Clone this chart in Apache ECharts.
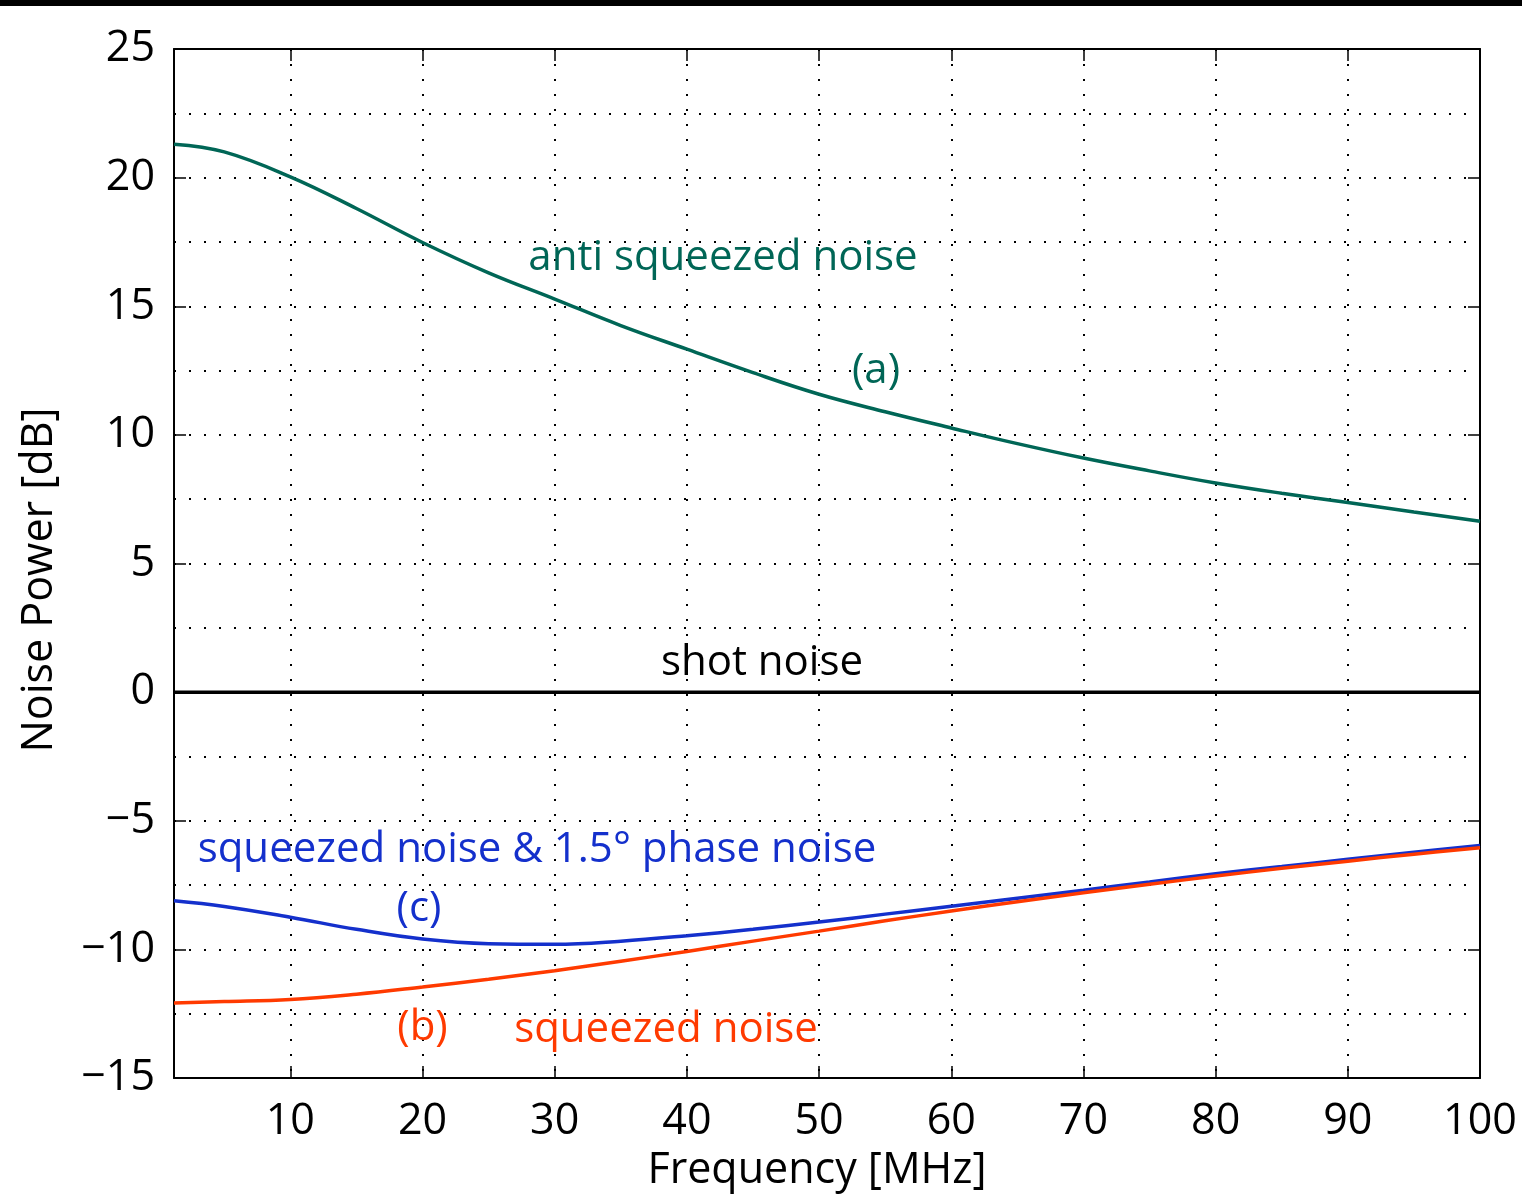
<!DOCTYPE html>
<html>
<head>
<meta charset="utf-8">
<script src="https://cdn.jsdelivr.net/npm/echarts@6/dist/echarts.min.js"></script>
<style>
  html, body { margin: 0; padding: 0; background: #fff; }
  #chart { width: 1522px; height: 1196px; }
</style>
</head>
<body>
<div id="chart"></div>
<script>
// ---- data ----
const freq = [1.2, 5, 10, 15, 20, 25, 30, 35, 40, 45, 50, 55, 60, 65, 70, 75, 80, 85, 90, 95, 100];
const antiSqueezed = [21.30, 21.00, 20.03, 18.80, 17.48, 16.30, 15.28, 14.25, 13.33, 12.42, 11.58, 10.90, 10.27, 9.66, 9.10, 8.60, 8.13, 7.73, 7.37, 7.00, 6.64];
const squeezed = [-12.08, -12.03, -11.95, -11.74, -11.46, -11.16, -10.83, -10.46, -10.08, -9.68, -9.29, -8.89, -8.51, -8.15, -7.80, -7.47, -7.15, -6.85, -6.57, -6.30, -6.05];
const squeezedPhase = [-8.11, -8.33, -8.75, -9.22, -9.60, -9.78, -9.80, -9.68, -9.47, -9.22, -8.94, -8.63, -8.32, -8.01, -7.70, -7.38, -7.06, -6.78, -6.50, -6.22, -5.96];
const shotFreq = [1.2, 100];
const shotLevel = [0, 0];
const xTicks = [10, 20, 30, 40, 50, 60, 70, 80, 90, 100];

// annotations in data coordinates (text centre)
const annotations = [
  { text: 'anti squeezed noise', x: 42.73, y: 16.88, color: '#006656' },
  { text: '(a)', x: 54.31, y: 12.48, color: '#006656' },
  { text: 'shot noise', x: 45.68, y: 1.12, color: '#000000' },
  { text: 'squeezed noise & 1.5° phase noise', x: 28.66, y: -6.13, color: '#1430cc' },
  { text: '(c)', x: 19.73, y: -8.43, color: '#1430cc' },
  { text: '(b)', x: 20.0, y: -13.06, color: '#ff3a00' },
  { text: 'squeezed noise', x: 38.42, y: -13.14, color: '#ff3a00' }
];

const FONT = 'Open Sans';
const zip = (xs, ys) => xs.map((v, i) => [v, ys[i]]);
const dotted = { color: '#000', width: 2, type: [2, 13] };

const chart = echarts.init(document.getElementById('chart'), null, { renderer: 'canvas' });

const baseX = {
  type: 'value', min: 1.2, max: 100,
  axisLine: { show: true, onZero: false, lineStyle: { color: '#000', width: 2 } },
  axisTick: { show: true, inside: true, length: 12, customValues: xTicks, lineStyle: { color: '#000', width: 1.5 } }
};
const baseY = {
  type: 'value', min: -15, max: 25, interval: 5,
  axisLine: { show: true, onZero: false, lineStyle: { color: '#000', width: 2 } },
  axisTick: { show: true, inside: true, length: 12, lineStyle: { color: '#000', width: 1.5 } }
};

chart.setOption({
  animation: false,
  backgroundColor: '#fff',
  grid: { left: 174, right: 42, top: 49, bottom: 118, containLabel: false, outerBoundsMode: 'none' },
  xAxis: [
    Object.assign({}, baseX, {
      position: 'bottom',
      axisLabel: { customValues: xTicks, margin: 22, fontSize: 43, color: '#000', fontFamily: FONT },
      splitLine: { show: true, lineStyle: dotted }
    }),
    Object.assign({}, baseX, {
      position: 'top',
      axisLabel: { show: false },
      splitLine: { show: false }
    })
  ],
  yAxis: [
    Object.assign({}, baseY, {
      position: 'left',
      axisLabel: { margin: 19, fontSize: 43, color: '#000', fontFamily: FONT,
        formatter: v => String(v).replace('-', '\u2212') },
      splitLine: { show: true, lineStyle: dotted },
      minorTick: { show: false, splitNumber: 2 },
      minorSplitLine: { show: true, lineStyle: dotted }
    }),
    Object.assign({}, baseY, {
      position: 'right',
      axisLabel: { show: false },
      splitLine: { show: false }
    })
  ],
  series: [
    { name: 'shot noise', type: 'line', data: zip(shotFreq, shotLevel), symbol: 'none',
      lineStyle: { color: '#000', width: 3.5 }, z: 3 },
    { name: 'anti squeezed noise', type: 'line', data: zip(freq, antiSqueezed), symbol: 'none', smooth: 0.4,
      lineStyle: { color: '#006656', width: 3.5 }, z: 4 },
    { name: 'squeezed noise & phase noise', type: 'line', data: zip(freq, squeezedPhase), symbol: 'none', smooth: 0.4,
      lineStyle: { color: '#1430cc', width: 3.5 }, z: 4 },
    { name: 'squeezed noise', type: 'line', data: zip(freq, squeezed), symbol: 'none', smooth: 0.4,
      lineStyle: { color: '#ff3a00', width: 3.5 }, z: 5 }
  ]
});

const graphics = [
  { type: 'rect', left: 0, top: 0, shape: { width: 1522, height: 6 }, style: { fill: '#000' }, silent: true },
  { type: 'text', x: 817, y: 1171, style: { text: 'Frequency [MHz]', fill: '#000', font: '43px "' + FONT + '"', align: 'center', verticalAlign: 'middle' } },
  { type: 'text', x: 40, y: 580, rotation: Math.PI / 2, style: { text: 'Noise Power [dB]', fill: '#000', font: '43px "' + FONT + '"', align: 'center', verticalAlign: 'middle' } }
];
annotations.forEach(a => {
  const p = chart.convertToPixel({ xAxisIndex: 0, yAxisIndex: 0 }, [a.x, a.y]);
  graphics.push({ type: 'text', x: p[0], y: p[1], z: 10,
    style: { text: a.text, fill: a.color, font: '42px "' + FONT + '"', align: 'center', verticalAlign: 'middle' } });
});
chart.setOption({ graphic: graphics });
</script>
</body>
</html>
